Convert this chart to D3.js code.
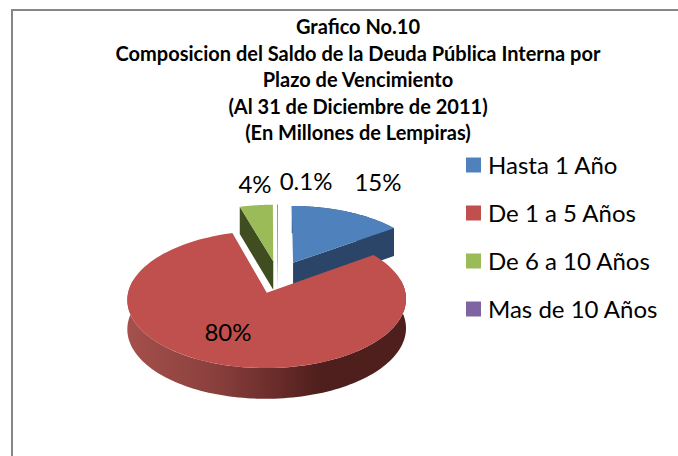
<!DOCTYPE html>
<html>
<head>
<meta charset="utf-8">
<script src="https://cdn.jsdelivr.net/npm/d3@7"></script>
<style>
  html, body { margin: 0; padding: 0; background: #fff; }
  svg { display: block; }
  text { font-family: Lato, "Open Sans", sans-serif; fill: #000; }
</style>
</head>
<body>
<svg id="chart" width="678" height="456"></svg>
<script>
const titleLines = [
  'Grafico No.10',
  'Composicion del Saldo de la Deuda Pública Interna por',
  'Plazo de Vencimiento',
  '(Al 31 de Diciembre de 2011)',
  '(En Millones de Lempiras)'
];
const categories = ['Hasta 1 Año', 'De 1 a 5 Años', 'De 6 a 10 Años', 'Mas de 10 Años'];
const shares = [15.0, 80.5, 4.4, 0.1];
const shareLabels = ['15%', '80%', '4%', '0.1%'];

const topColors = ['#4f81bd', '#c0504d', '#9bbb59', '#8064a2'];
const cutColors = ['#2a4568', '#5a2321', '#3f4d20', '#4a3a60'];

const svg = d3.select('#chart');

// frame
svg.append('path')
  .attr('d', 'M12 456V10H678')
  .attr('fill', 'none')
  .attr('stroke', '#868686')
  .attr('stroke-width', 2);

// title
svg.append('g').selectAll('text')
  .data(titleLines)
  .join('text')
  .attr('x', 358)
  .attr('y', (d, i) => 34 + i * 26.5)
  .attr('text-anchor', 'middle')
  .attr('font-size', 20)
  .attr('font-weight', 700)
  .text(d => d);

// perspective pie: world x/z on the table, z towards the viewer
const cx = 278, cy = 277;
const persp = 0.0963;
const xScale = d3.scaleLinear().domain([0, 1]).range([cx, cx + 135.5]);
const zScale = d3.scaleLinear().domain([0, 1]).range([cy, cy + 64.9]);
const wallHeight = 28.8;
const explode = 0.25;

function project(x, z, drop) {
  const s = 1 / (1 - persp * z);
  return [xScale(x * s), zScale(z * s) + (drop || 0) * Math.sqrt(s)];
}

const slices = d3.pie().sort(null).value(d => d)(shares).map((d, i) => {
  const mid = (d.startAngle + d.endAngle) / 2;
  return {
    i: i,
    start: d.startAngle,
    end: d.endAngle,
    ox: explode * Math.sin(mid),
    oz: -explode * Math.cos(mid)
  };
});

function rim(s, angle) {
  return [s.ox + Math.sin(angle), s.oz - Math.cos(angle)];
}

const pathOf = d3.line();

function topPath(s) {
  const pts = [project(s.ox, s.oz)];
  d3.range(0, 1.0001, 1 / 120).forEach(t => {
    const p = rim(s, s.start + t * (s.end - s.start));
    pts.push(project(p[0], p[1]));
  });
  return pathOf(pts) + 'Z';
}

function cutPath(s, angle) {
  const p = rim(s, angle);
  return pathOf([
    project(s.ox, s.oz),
    project(p[0], p[1]),
    project(p[0], p[1], wallHeight),
    project(s.ox, s.oz, wallHeight)
  ]) + 'Z';
}

// outer wall of a slice between two angles
function wallPath(s, a0, a1) {
  const up = [], down = [];
  d3.range(0, 1.0001, 1 / 120).forEach(t => {
    const p = rim(s, a0 + t * (a1 - a0));
    up.push(project(p[0], p[1]));
    down.unshift(project(p[0], p[1], wallHeight));
  });
  return pathOf(up.concat(down)) + 'Z';
}

const defs = svg.append('defs');
const wallGrad = defs.append('linearGradient')
  .attr('id', 'redWall')
  .attr('gradientUnits', 'userSpaceOnUse')
  .attr('x1', 127).attr('x2', 407).attr('y1', 0).attr('y2', 0);
[[0, '#a5504c'], [0.31, '#8a403d'], [0.53, '#6a2c2a'], [0.69, '#4e1f1d'], [1, '#4f1f1d']].forEach(d => {
  wallGrad.append('stop').attr('offset', d[0]).attr('stop-color', d[1]);
});

const pie = svg.append('g');

// back slices first, red goes on top of them
[slices[3], slices[2], slices[0]].forEach(s => {
  pie.append('path').attr('d', cutPath(s, s.i === 0 ? s.end : s.start)).attr('fill', cutColors[s.i]);
  if (s.i === 0) pie.append('path').attr('d', wallPath(s, s.start, s.end)).attr('fill', cutColors[0]);
  pie.append('path').attr('d', topPath(s)).attr('fill', topColors[s.i]);
});

const red = slices[1];
pie.append('path').attr('d', wallPath(red, Math.PI / 2 - 0.2, 3 * Math.PI / 2 + 0.2)).attr('fill', 'url(#redWall)');
pie.append('path').attr('d', topPath(red)).attr('fill', topColors[1]);

// data labels
const labelX = [378, 228, 255, 306];
const labelY = [191, 341, 193, 190];
svg.append('g').selectAll('text')
  .data(shareLabels)
  .join('text')
  .attr('x', (d, i) => labelX[i])
  .attr('y', (d, i) => labelY[i])
  .attr('text-anchor', 'middle')
  .attr('font-size', 24)
  .text(d => d);

// legend
const legendY = d3.scalePoint().domain(categories).range([165, 309]);
const legend = svg.append('g').selectAll('g')
  .data(categories)
  .join('g')
  .attr('transform', d => `translate(466, ${legendY(d)})`);
legend.append('rect')
  .attr('y', -7.5).attr('width', 15).attr('height', 15)
  .attr('fill', (d, i) => topColors[i]);
legend.append('text')
  .attr('x', 22).attr('y', 8.5)
  .attr('font-size', 24)
  .text(d => d);
</script>
</body>
</html>
